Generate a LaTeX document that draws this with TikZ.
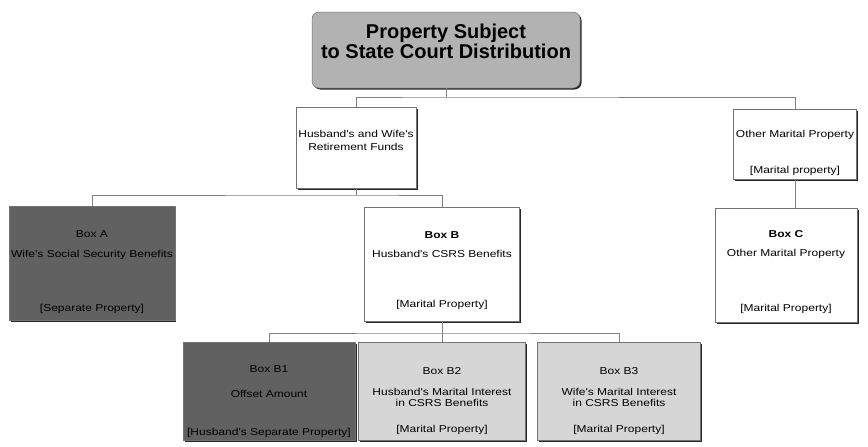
\documentclass[tikz,border=0pt]{standalone}
\usepackage{fontspec}
\setmainfont{Liberation Sans}
\newfontfamily\boxfont[FakeStretch=1.2]{Liberation Sans}
\usetikzlibrary{shadows}

\tikzset{
  box/.style={draw=black!55, line width=0.5pt, fill=white, align=center,
    font=\boxfont\fontsize{10}{12}\selectfont, inner sep=2pt, text depth=0pt,
    drop shadow={shadow xshift=1.5pt, shadow yshift=-1.5pt, opacity=1, fill=black!85}},
  darkbox/.style={box, fill=black!62},
  lightbox/.style={box, fill=black!16},
  link/.style={draw=black!50, line width=0.5pt},
}

\begin{document}
\begin{tikzpicture}[x=1pt,y=-1pt]
\useasboundingbox (0,0) rectangle (868,447);
% top of the chart
\node[box, fill=black!30, rounded corners=7pt, minimum width=268pt, minimum height=76pt, text height=16pt,
  font=\bfseries\fontsize{20}{18}\selectfont] (court) at (446,50) {Property Subject\\to State Court Distribution};

% second row
\node[box, minimum width=120pt, minimum height=81pt, text height=6pt] (funds) at (356,147.5) {Husband's and Wife's\\[1pt]Retirement Funds};
\node[box, minimum width=123pt, minimum height=70pt, text height=59pt] (other) at (795,144) {Other Marital Property\\[24pt]{[Marital property]}};

% third row
\node[darkbox, minimum width=165pt, minimum height=114pt, text height=97pt] (boxA) at (92,263) {Box A\\[8pt]Wife's Social Security Benefits\\[42pt]{[Separate Property]}};
\node[box, minimum width=155pt, minimum height=114pt, text height=86pt] (boxB) at (442,264) {\textbf{Box B}\\[7pt]Husband's CSRS Benefits\\[38pt]{[Marital Property]}};
\node[box, minimum width=142pt, minimum height=114pt, text height=93pt] (boxC) at (786,265) {\textbf{Box C}\\[7pt]Other Marital Property\\[43pt]{[Marital Property]}};

% fourth row
\node[darkbox, minimum width=172pt, minimum height=98pt, text height=88pt] (boxBa) at (269,391) {Box B1\\[13pt]Offset Amount\\[26pt]{[Husband's Separate Property]}};
\node[lightbox, minimum width=167pt, minimum height=98pt, text height=82pt] (boxBb) at (442,391) {Box B2\\[9pt]Husband's Marital Interest\\[-1pt]in CSRS Benefits\\[14pt]{[Marital Property]}};
\node[lightbox, minimum width=163pt, minimum height=98pt, text height=82pt] (boxBc) at (619,391) {Box B3\\[9pt]Wife's Marital Interest\\[-1pt]in CSRS Benefits\\[14pt]{[Marital Property]}};

% connectors
\coordinate (split1) at (446,97);
\coordinate (split2) at (356,195);
\coordinate (split3) at (442,333);
\draw[link] (court) -- (split1);
\draw[link] (funds.north) |- (split1) -| (other.north);
\draw[link] (funds) -- (split2);
\draw[link] (boxA.north) |- (split2) -| (boxB.north);
\draw[link] (boxB) -- (boxBb);
\draw[link] (boxBa.north) |- (split3) -| (boxBc.north);
\draw[link] (other.south) -- (other.south |- boxC.north);
\end{tikzpicture}
\end{document}
